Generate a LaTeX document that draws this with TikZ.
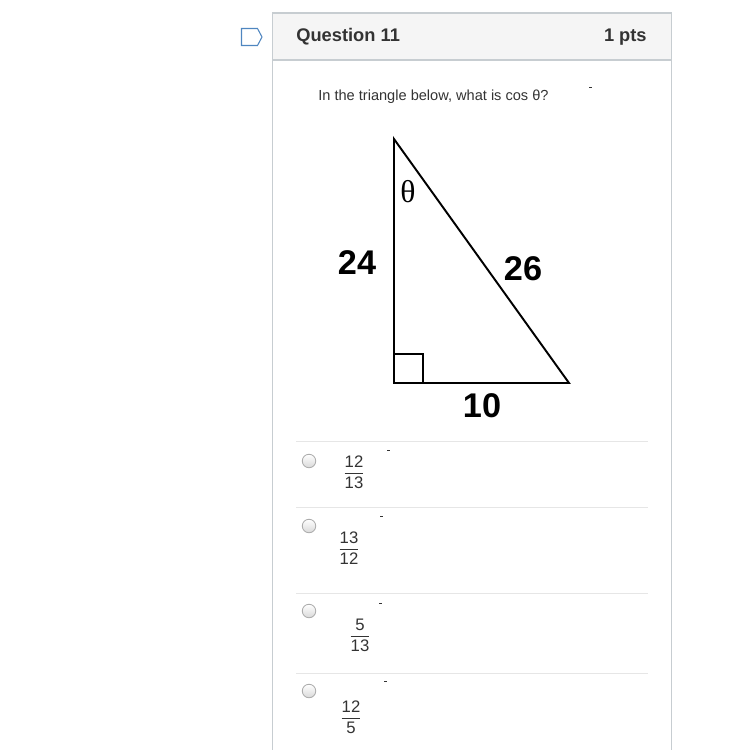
\documentclass[tikz,border=0pt]{standalone}
\usepackage{fontspec}
\setmainfont{Liberation Sans}
\newfontfamily\greekserif{Liberation Serif}
\usetikzlibrary{positioning}
\definecolor{panelline}{HTML}{C7CDD1}
\definecolor{headerfill}{HTML}{F5F5F5}
\definecolor{sepgray}{HTML}{E6E6E6}
\definecolor{textgray}{HTML}{333333}
\definecolor{bookblue}{HTML}{4F86C0}
\tikzset{
	qheader/.style={font=\fontsize{10.4}{12}\selectfont\bfseries, text=textgray, inner sep=0pt},
	prompttext/.style={font=\fontsize{8.3}{10}\selectfont, text=textgray, inner sep=0pt},
	triline/.style={line width=1.1pt, line join=miter},
	sidelabel/.style={font=\fontsize{19.5}{22}\selectfont\bfseries, inner sep=0pt},
	sepline/.style={draw=sepgray, line width=0.6pt},
	radio/.style={circle, draw=gray!65, line width=0.5pt, top color=white, bottom color=gray!30, minimum size=0.27cm, inner sep=0pt},
	choice/.style={font=\fontsize{9.5}{11}\selectfont, text=textgray, inner sep=0pt},
	dashmark/.style={fill=black!80, minimum width=0.06cm, minimum height=0.02cm, inner sep=0pt}
}
\newcommand{\fr}[2]{$\displaystyle\frac{\mbox{#1}}{\mbox{#2}}$}

\begin{document}
\begin{tikzpicture}[x=0.02cm, y=-0.02cm]
	\useasboundingbox (0,0) rectangle (748,750);

	% panel and header
	\draw[panelline, line width=0.6pt] (272.5,60) -- (272.5,750);
	\draw[panelline, line width=0.6pt] (671.5,60) -- (671.5,750);
	\filldraw[fill=headerfill, draw=panelline, line width=0.6pt] (272.5,13) rectangle (671.5,60);
	\draw[bookblue, line width=0.6pt] (241.5,28.5) -- (257.5,28.5) -- (262,37) -- (257.5,45.5) -- (241.5,45.5) -- cycle;
	\node[qheader, anchor=west] at (296,37) (qtitle) {Question 11};
	\node[qheader, anchor=east] at (647,37) (qpts) {1 pts};

	\node[prompttext, anchor=west] at (318,97) (prompt) {In the triangle below, what is cos θ?};
	\node[dashmark] at (590,88) (dash-0) {};

	% triangle
	\coordinate (apex) at (394,139);
	\coordinate (corner) at (394,383);
	\coordinate (base-end) at (569,383);
	\draw[triline] (apex) -- (corner) -- (base-end) -- cycle;
	\draw[line width=1pt] (corner) ++(0,-29) -- ++(29,0) -- ++(0,29);
	\node[font=\greekserif\fontsize{18}{20}\selectfont, inner sep=0pt] at (408,192) (theta) {θ};
	\node[sidelabel] at (357,263) (side-a) {24};
	\node[sidelabel] at (523,269) (side-c) {26};
	\node[sidelabel] at (482,406) (side-b) {10};

	% answers
	\draw[sepline] (296,441.5) -- (648,441.5);
	\draw[sepline] (296,507.5) -- (648,507.5);
	\draw[sepline] (296,593.5) -- (648,593.5);
	\draw[sepline] (296,673.5) -- (648,673.5);

	\node[radio] at (309,461) (radio-1) {};
	\node[choice] at (354,472) (choice-1) {\fr{12}{13}};
	\node[dashmark] at (388,450) (dash-1) {};

	\node[radio] at (309,526) (radio-2) {};
	\node[choice] at (349,548) (choice-2) {\fr{13}{12}};
	\node[dashmark] at (381,516) (dash-2) {};

	\node[radio] at (309,611) (radio-3) {};
	\node[choice] at (360,635) (choice-3) {\fr{5}{13}};
	\node[dashmark] at (380,603) (dash-3) {};

	\node[radio] at (309,691) (radio-4) {};
	\node[choice] at (351,717) (choice-4) {\fr{12}{5}};
	\node[dashmark] at (385,681) (dash-4) {};
\end{tikzpicture}
\end{document}
